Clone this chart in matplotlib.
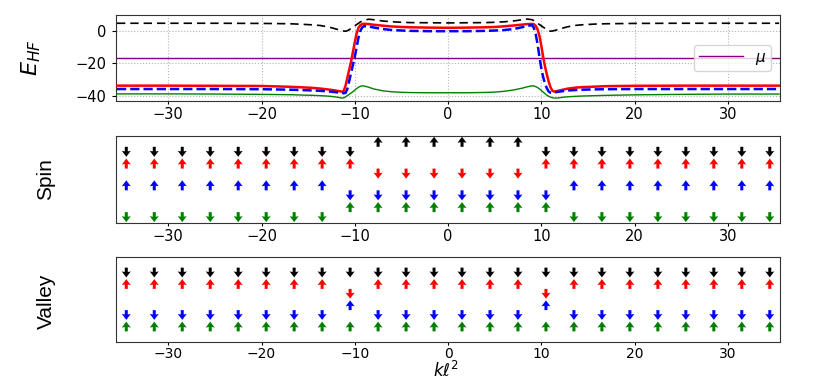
import matplotlib
matplotlib.use("Agg")
import matplotlib.pyplot as plt
import numpy as np

# ---------------- data ----------------
k_curve = [-35.5, -30, -25, -20, -17, -15.8, -14.5, -13.7, -12.8, -12.3, -11.8, -11.4, -11.2,
           -11.0, -10.8, -10.6, -10.4, -10.2, -10.0, -9.8, -9.6, -9.4, -9.2, -9.0, -8.5, -8.0,
           -7.0, -6.0, -5.0, -4.0, -2.0, 0.0, 2.0, 4.0, 5.0, 6.0, 7.0, 8.0, 8.5, 9.0, 9.2, 9.4,
           9.6, 9.8, 10.0, 10.2, 10.4, 10.6, 10.8, 11.0, 11.2, 11.4, 11.8, 12.3, 12.8, 13.7,
           14.5, 15.8, 17, 20, 25, 30, 35.5]

E_red = [-33.8, -33.8, -33.9, -34.0, -34.5, -34.8, -35.2, -35.6, -36.2, -36.6, -37.1, -37.5, -37.2,
         -34.0, -29.0, -24.0, -19.0, -13.0, -7.0, -1.5, 2.0, 3.6, 4.3, 4.5, 4.3, 3.9,
         3.3, 2.8, 2.5, 2.3, 2.1, 2.0, 2.1, 2.3, 2.5, 2.9, 3.4, 4.0, 4.3, 4.4, 4.2, 3.2,
         1.0, -3.0, -9.0, -16.0, -22.0, -27.0, -31.5, -35.0, -37.0, -37.5, -37.0, -36.3, -35.7, -35.0,
         -34.7, -34.4, -34.1, -33.9, -33.8, -33.8, -33.8]

E_blue = [-35.9, -35.9, -35.9, -36.0, -36.3, -36.5, -36.8, -37.0, -37.4, -37.7, -38.0, -38.3, -38.5,
          -38.3, -36.0, -31.0, -26.0, -21.0, -16.0, -10.0, -4.0, 0.0, 2.3, 3.0, 2.8, 2.2,
          1.2, 0.6, 0.3, 0.1, -0.1, -0.1, -0.1, 0.1, 0.3, 0.6, 1.2, 2.4, 3.2, 3.6, 2.0, -2.0,
          -8.0, -16.0, -23.0, -28.5, -32.5, -35.5, -37.5, -38.2, -38.3, -38.0, -37.6, -37.2, -36.8, -36.5,
          -36.3, -36.1, -36.0, -35.9, -35.9, -35.9, -35.9]

E_black = [4.8, 4.8, 4.8, 4.7, 4.5, 4.2, 3.8, 3.4, 2.5, 1.7, 0.9, 0.3, 0.0,
           -0.1, 0.2, 0.8, 1.6, 2.4, 3.2, 4.0, 4.8, 5.6, 6.2, 6.7, 7.3, 7.0,
           6.2, 5.7, 5.4, 5.2, 5.1, 5.0, 5.1, 5.2, 5.4, 5.7, 6.2, 7.0, 7.4, 7.0, 6.4, 5.6,
           4.8, 4.0, 3.2, 2.4, 1.6, 0.8, 0.2, -0.1, 0.0, 0.3, 0.9, 1.8, 2.6, 3.5,
           3.9, 4.3, 4.5, 4.7, 4.8, 4.8, 4.8]

E_green = [-38.9, -38.9, -39.0, -39.2, -39.4, -39.6, -39.8, -40.0, -40.3, -40.6, -41.0, -41.5, -41.4,
           -40.8, -40.0, -39.2, -38.4, -37.5, -36.6, -35.6, -34.8, -34.2, -33.9, -34.0, -34.8, -35.8,
           -37.0, -37.6, -37.9, -38.1, -38.2, -38.2, -38.2, -38.0, -37.8, -37.3, -36.5, -35.3, -34.5, -33.9, -34.0, -34.4,
           -35.0, -35.8, -36.8, -37.8, -38.8, -39.7, -40.4, -40.9, -41.3, -41.5, -41.4, -41.0, -40.7, -40.4,
           -40.2, -40.0, -39.8, -39.5, -39.2, -39.0, -39.0]

mu = -17.0

k_arrows = [-34.5, -31.5, -28.5, -25.5, -22.5, -19.5, -16.5, -13.5, -10.5, -7.5, -4.5, -1.5,
            1.5, 4.5, 7.5, 10.5, 13.5, 16.5, 19.5, 22.5, 25.5, 28.5, 31.5, 34.5]

# level index (0 = lowest / green ... 3 = highest / black) and +1 up / -1 down
level_colors = ['g', 'b', 'r', 'k']
spin_green = [-1]*8 + [1]*8 + [-1]*8
spin_blue = [1]*8 + [-1]*8 + [1]*8
spin_red = [1]*9 + [-1]*6 + [1]*9
spin_black = [-1]*9 + [1]*6 + [-1]*9

valley_green = [1]*24
valley_blue = [-1]*8 + [1] + [-1]*6 + [1] + [-1]*8
valley_red = [1]*8 + [-1] + [1]*6 + [-1] + [1]*8
valley_black = [-1]*24

xticks = [-30, -20, -10, 0, 10, 20, 30]
yticks_E = [-40, -20, 0]

# ---------------- figure ----------------
fig = plt.figure(figsize=(8.3, 3.82), dpi=100)
ax1 = fig.add_axes([0.1398, 0.7356, 0.8, 0.2251])
ax2 = fig.add_axes([0.1398, 0.4162, 0.8, 0.228])
ax3 = fig.add_axes([0.1398, 0.1047, 0.8, 0.2225])

xlim = (-35.6, 35.6)

ax1.plot(k_curve, E_black, color='k', ls=(0, (5, 3)), lw=1.2, zorder=3)
ax1.plot(k_curve, E_red, color='r', lw=1.8, zorder=3)
ax1.plot(k_curve, E_blue, color='b', ls='--', lw=1.8, zorder=4)
ax1.plot(k_curve, E_green, color='g', lw=1.0, zorder=3)
ax1.axhline(mu, color='purple', lw=1.0, label=r'$\mu$', zorder=2)
ax1.set_xlim(*xlim)
ax1.set_ylim(-43.3, 9.9)
ax1.set_xticks(xticks)
ax1.set_yticks(yticks_E)
ax1.grid(True, linestyle=':', color='0.7', lw=0.8)
ax1.legend(loc='center right', fontsize=11, handlelength=2.9, framealpha=0.8,
           borderaxespad=0.6, borderpad=0.3)


def draw_arrows(ax, states):
    X, Y, V, C = [], [], [], []
    for lev, (st, col) in enumerate(zip(states, level_colors)):
        for k, s in zip(k_arrows, st):
            X.append(k)
            Y.append(lev)
            V.append(s)
            C.append(col)
    V = np.array(V, dtype=float) * 0.46
    ax.quiver(X, Y, np.zeros_like(V), V, color=C, angles='xy', scale_units='xy', scale=1,
              pivot='tail', units='dots', width=3.0, headwidth=3.0, headlength=2.0,
              headaxislength=1.8)
    ax.set_xlim(*xlim)
    ax.set_ylim(-0.5, 3.5)
    ax.set_yticks([])
    ax.set_xticks(xticks)


draw_arrows(ax2, [spin_green, spin_blue, spin_red, spin_black])
draw_arrows(ax3, [valley_green, valley_blue, valley_red, valley_black])

for ax in (ax1, ax2, ax3):
    ax.tick_params(axis='x', labelsize=10.5, length=2.5, pad=1.5)
    ax.tick_params(axis='y', labelsize=10.5, length=3, pad=4)
    for sp in ax.spines.values():
        sp.set_color('0.2')
ax3.tick_params(axis='x', labelsize=10, pad=1)

narrow = ['Liberation Sans Narrow', 'Liberation Sans', 'DejaVu Sans']
fig.text(31/830, 1-58/382, r'$E_{HF}$', rotation=90, ha='center', va='center', fontsize=16)
fig.text(46/830, 1-179/382, 'Spin', rotation=90, ha='center', va='center', fontsize=15,
         family=narrow)
fig.text(46/830, 1-301/382, 'Valley', rotation=90, ha='center', va='center', fontsize=15,
         family=narrow)
fig.text(446/830, 1/382, r'$k\ell^2$', ha='center', va='bottom', fontsize=12)

fig.savefig('out.png', dpi=100)
